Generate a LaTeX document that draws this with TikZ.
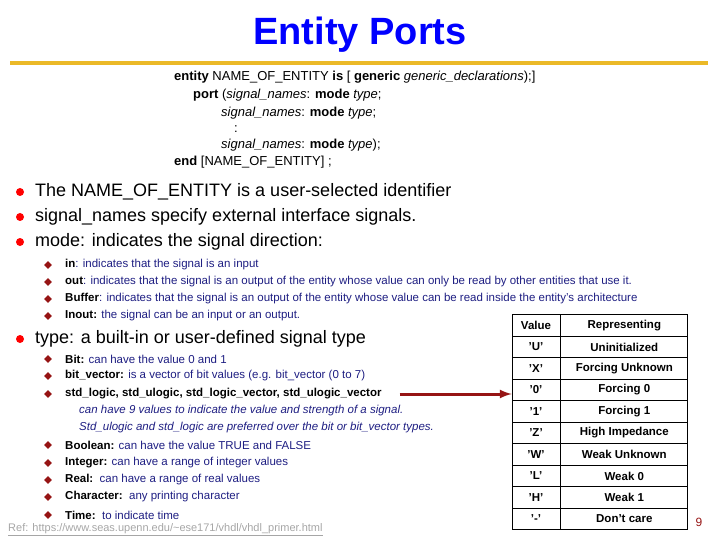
\documentclass[tikz,border=0pt]{standalone}
\usepackage{fontspec}
\setmainfont{Liberation Sans}
\usetikzlibrary{positioning,shapes.geometric}
\definecolor{gold}{RGB}{235,185,40}
\definecolor{navy}{RGB}{30,30,130}
\definecolor{darkred}{RGB}{150,20,20}
\newcommand{\rowh}{21.5}

\begin{document}
\begin{tikzpicture}[x=1pt,y=-1pt,
    title/.style={font=\fontsize{38}{40}\selectfont\bfseries, text=blue},
    code/.style={anchor=west, inner sep=0pt, font=\fontsize{13}{15}\selectfont},
    item/.style={anchor=west, inner sep=0pt, font=\fontsize{18}{20}\selectfont},
    sub/.style={anchor=west, inner sep=0pt, text=navy, font=\fontsize{11.5}{13}\selectfont},
    dot/.style={circle, fill=red, inner sep=0pt, minimum size=8pt},
    diam/.style={diamond, fill=darkred, inner sep=0pt, minimum size=8pt},
    cell/.style={draw, thick, minimum height=\rowh pt, inner sep=0pt, font=\fontsize{11.5}{13}\selectfont\bfseries}]
    \useasboundingbox (0,0) rectangle (720,540);

    % Title and rule
    \node[title] (title) at (360,35) {Entity Ports};
    \draw[gold, line width=4pt] (10,63) -- (708,63);

    % Syntax block
    \node[code] (c1) at (174,77) {\textbf{entity} NAME\_OF\_ENTITY \textbf{is} [ \textbf{generic} \textit{generic\_declarations});]};
    \node[code] (c2) at (193,95) {\textbf{port} (\textit{signal\_names}: \textbf{mode} \textit{type};};
    \node[code] (c3) at (221,113) {\textit{signal\_names}: \textbf{mode} \textit{type};};
    \node[code] (c4) at (234,129) {:};
    \node[code] (c5) at (221,145) {\textit{signal\_names}: \textbf{mode} \textit{type});};
    \node[code] (c6) at (174,162) {\textbf{end} [NAME\_OF\_ENTITY] ;};

    % Main bullets
    \node[dot] at (20,192) {};
    \node[item] (b1) at (35,192) {The NAME\_OF\_ENTITY is a user-selected identifier};
    \node[dot] at (20,217) {};
    \node[item] (b2) at (35,217) {signal\_names specify external interface signals.};
    \node[dot] at (20,242) {};
    \node[item] (b3) at (35,242) {mode: indicates the signal direction:};
    \node[dot] at (20,339) {};
    \node[item] (b4) at (35,339) {type: a built-in or user-defined signal type};

    % Modes
    \foreach \y/\txt in {265/{\textcolor{black}{\textbf{in}}: indicates that the signal is an input},
        282/{\textcolor{black}{\textbf{out}}: indicates that the signal is an output of the entity whose value can only be read by other entities that use it.},
        299/{\textcolor{black}{\textbf{Buffer}}: indicates that the signal is an output of the entity whose value can be read inside the entity's architecture},
        316/{\textcolor{black}{\textbf{Inout:}} the signal can be an input or an output.}}{
        \node[diam] at (48,\y) {};
        \node[sub] at (65,\y) {\txt};
    }

    % Types
    \foreach \y/\txt in {359/{\textcolor{black}{\textbf{Bit:}} can have the value 0 and 1},
        376/{\textcolor{black}{\textbf{bit\_vector:}} is a vector of bit values (e.g. bit\_vector (0 to 7)},
        445/{\textcolor{black}{\textbf{Boolean:}} can have the value TRUE and FALSE},
        463/{\textcolor{black}{\textbf{Integer:}} can have a range of integer values},
        480/{\textcolor{black}{\textbf{Real:}}\ \ can have a range of real values},
        497/{\textcolor{black}{\textbf{Character:}}\ \ any printing character},
        515/{\textcolor{black}{\textbf{Time:}}\ \ to indicate time}}{
        \node[diam] at (48,\y) {};
        \node[sub] at (65,\y) {\txt};
    }
    \node[diam] at (48,394) {};
    \node[sub, text=black] (stdl) at (65,394) {\textbf{std\_logic, std\_ulogic, std\_logic\_vector, std\_ulogic\_vector}};
    \node[sub] (it1) at (79,411) {\textit{can have 9 values to indicate the value and strength of a signal.}};
    \node[sub] (it2) at (79,428) {\textit{Std\_ulogic and std\_logic are preferred over the bit or bit\_vector types.}};

    % Reference
    \node[anchor=west, inner sep=0pt, text=gray!70, font=\fontsize{11}{13}\selectfont] (ref) at (8,530)
        {\underline{Ref: https://www.seas.upenn.edu/\textasciitilde ese171/vhdl/vhdl\_primer.html}};

    % Value table
    \node[cell, minimum width=48pt] (v0) at (536,325.5) {Value};
    \node[cell, minimum width=127pt, right=0pt of v0] (r0) {Representing};
    \foreach \v/\r [count=\i] in {'U'/Uninitialized, 'X'/Forcing Unknown, '0'/Forcing 0,
        '1'/Forcing 1, 'Z'/High Impedance, 'W'/Weak Unknown, 'L'/Weak 0, 'H'/Weak 1, '-'/Don't care}{
        \node[cell, minimum width=48pt] (v\i) at (536,325.5+\i*\rowh) {\v};
        \node[cell, minimum width=127pt, right=0pt of v\i] (r\i) {\r};
    }
    \draw[darkred, line width=3pt, -latex] (stdl.east) ++(18,0) coordinate (as) -- (as -| v3.west);

    \node[text=darkred, font=\fontsize{12}{14}\selectfont] (page) at (699,522) {9};
\end{tikzpicture}
\end{document}
